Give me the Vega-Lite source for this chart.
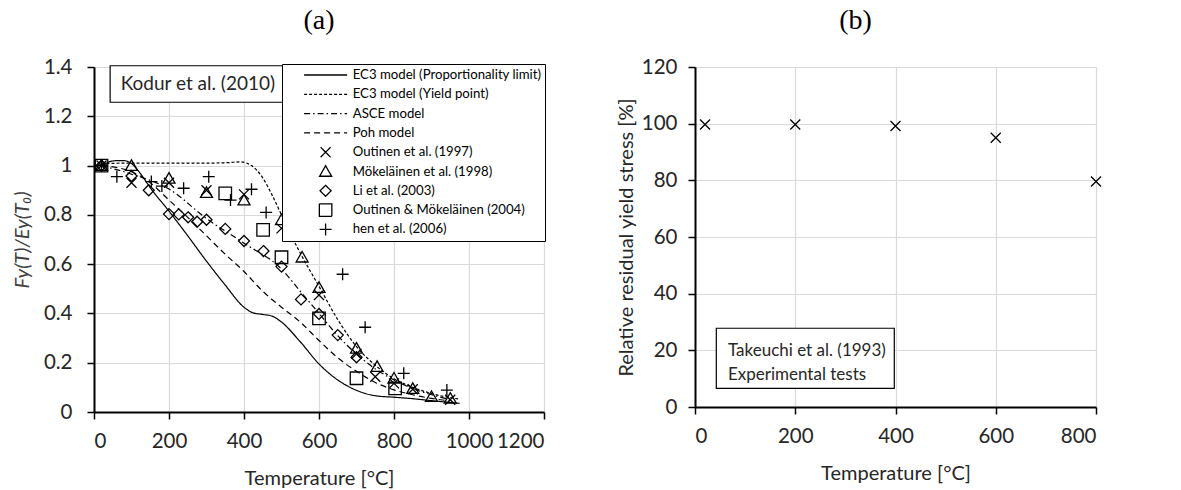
{
  "$schema": "https://vega.github.io/schema/vega-lite/v6.json",
  "background": "white",
  "padding": {"left": 12, "top": 7, "right": 5, "bottom": 5},
  "bounds": "flush",
  "spacing": 151,
  "config": {
    "view": {"stroke": null},
    "font": "Lato",
    "axis": {
      "gridColor": "#d9d9d9", "gridWidth": 1.2,
      "domainColor": "black", "domainWidth": 2,
      "tickColor": "black", "tickWidth": 1.5, "tickSize": 7,
      "labelFont": "Lato", "labelFontSize": 20.5, "labelColor": "#262626", "labelPadding": 12,
      "titleFont": "Lato", "titleFontSize": 20, "titleColor": "#262626", "titleFontWeight": "normal"
    }
  },
  "datasets": {
    "models": [
      {"series": "EC3 model (Proportionality limit)", "T": 20, "v": 1.0},
      {"series": "EC3 model (Proportionality limit)", "T": 40, "v": 1.015},
      {"series": "EC3 model (Proportionality limit)", "T": 60, "v": 1.02},
      {"series": "EC3 model (Proportionality limit)", "T": 80, "v": 1.02},
      {"series": "EC3 model (Proportionality limit)", "T": 100, "v": 1.008},
      {"series": "EC3 model (Proportionality limit)", "T": 125, "v": 0.965},
      {"series": "EC3 model (Proportionality limit)", "T": 150, "v": 0.91},
      {"series": "EC3 model (Proportionality limit)", "T": 200, "v": 0.815},
      {"series": "EC3 model (Proportionality limit)", "T": 250, "v": 0.715},
      {"series": "EC3 model (Proportionality limit)", "T": 300, "v": 0.612},
      {"series": "EC3 model (Proportionality limit)", "T": 350, "v": 0.515},
      {"series": "EC3 model (Proportionality limit)", "T": 400, "v": 0.425},
      {"series": "EC3 model (Proportionality limit)", "T": 425, "v": 0.402},
      {"series": "EC3 model (Proportionality limit)", "T": 450, "v": 0.396},
      {"series": "EC3 model (Proportionality limit)", "T": 475, "v": 0.389},
      {"series": "EC3 model (Proportionality limit)", "T": 500, "v": 0.365},
      {"series": "EC3 model (Proportionality limit)", "T": 550, "v": 0.285},
      {"series": "EC3 model (Proportionality limit)", "T": 600, "v": 0.195},
      {"series": "EC3 model (Proportionality limit)", "T": 650, "v": 0.13},
      {"series": "EC3 model (Proportionality limit)", "T": 700, "v": 0.088},
      {"series": "EC3 model (Proportionality limit)", "T": 750, "v": 0.066},
      {"series": "EC3 model (Proportionality limit)", "T": 800, "v": 0.06},
      {"series": "EC3 model (Proportionality limit)", "T": 850, "v": 0.054},
      {"series": "EC3 model (Proportionality limit)", "T": 900, "v": 0.046},
      {"series": "EC3 model (Proportionality limit)", "T": 975, "v": 0.035},
      {"series": "EC3 model (Yield point)", "T": 20, "v": 1.008},
      {"series": "EC3 model (Yield point)", "T": 100, "v": 1.01},
      {"series": "EC3 model (Yield point)", "T": 200, "v": 1.01},
      {"series": "EC3 model (Yield point)", "T": 300, "v": 1.01},
      {"series": "EC3 model (Yield point)", "T": 360, "v": 1.012},
      {"series": "EC3 model (Yield point)", "T": 390, "v": 1.015},
      {"series": "EC3 model (Yield point)", "T": 420, "v": 1.0},
      {"series": "EC3 model (Yield point)", "T": 450, "v": 0.95},
      {"series": "EC3 model (Yield point)", "T": 475, "v": 0.88},
      {"series": "EC3 model (Yield point)", "T": 500, "v": 0.8},
      {"series": "EC3 model (Yield point)", "T": 525, "v": 0.72},
      {"series": "EC3 model (Yield point)", "T": 550, "v": 0.645},
      {"series": "EC3 model (Yield point)", "T": 600, "v": 0.51},
      {"series": "EC3 model (Yield point)", "T": 650, "v": 0.375},
      {"series": "EC3 model (Yield point)", "T": 700, "v": 0.265},
      {"series": "EC3 model (Yield point)", "T": 750, "v": 0.19},
      {"series": "EC3 model (Yield point)", "T": 800, "v": 0.135},
      {"series": "EC3 model (Yield point)", "T": 850, "v": 0.1},
      {"series": "EC3 model (Yield point)", "T": 900, "v": 0.075},
      {"series": "EC3 model (Yield point)", "T": 950, "v": 0.058},
      {"series": "EC3 model (Yield point)", "T": 975, "v": 0.052},
      {"series": "ASCE model", "T": 20, "v": 1.0},
      {"series": "ASCE model", "T": 100, "v": 0.965},
      {"series": "ASCE model", "T": 200, "v": 0.905},
      {"series": "ASCE model", "T": 300, "v": 0.785},
      {"series": "ASCE model", "T": 400, "v": 0.685},
      {"series": "ASCE model", "T": 500, "v": 0.58},
      {"series": "ASCE model", "T": 550, "v": 0.49},
      {"series": "ASCE model", "T": 600, "v": 0.4},
      {"series": "ASCE model", "T": 650, "v": 0.31},
      {"series": "ASCE model", "T": 700, "v": 0.235},
      {"series": "ASCE model", "T": 750, "v": 0.175},
      {"series": "ASCE model", "T": 800, "v": 0.13},
      {"series": "ASCE model", "T": 850, "v": 0.095},
      {"series": "ASCE model", "T": 900, "v": 0.07},
      {"series": "ASCE model", "T": 950, "v": 0.05},
      {"series": "Poh model", "T": 20, "v": 1.0},
      {"series": "Poh model", "T": 100, "v": 0.975},
      {"series": "Poh model", "T": 150, "v": 0.93},
      {"series": "Poh model", "T": 200, "v": 0.86},
      {"series": "Poh model", "T": 250, "v": 0.79},
      {"series": "Poh model", "T": 300, "v": 0.715},
      {"series": "Poh model", "T": 350, "v": 0.64},
      {"series": "Poh model", "T": 400, "v": 0.57},
      {"series": "Poh model", "T": 450, "v": 0.49},
      {"series": "Poh model", "T": 500, "v": 0.425},
      {"series": "Poh model", "T": 550, "v": 0.365},
      {"series": "Poh model", "T": 600, "v": 0.29},
      {"series": "Poh model", "T": 650, "v": 0.22},
      {"series": "Poh model", "T": 700, "v": 0.165},
      {"series": "Poh model", "T": 750, "v": 0.12},
      {"series": "Poh model", "T": 800, "v": 0.09},
      {"series": "Poh model", "T": 850, "v": 0.07},
      {"series": "Poh model", "T": 900, "v": 0.055},
      {"series": "Poh model", "T": 950, "v": 0.045}
    ],
    "tests": [
      {"series": "Outinen et al. (1997)", "T": 20, "v": 1.0},
      {"series": "Outinen et al. (1997)", "T": 100, "v": 0.93},
      {"series": "Outinen et al. (1997)", "T": 200, "v": 0.93},
      {"series": "Outinen et al. (1997)", "T": 300, "v": 0.9},
      {"series": "Outinen et al. (1997)", "T": 400, "v": 0.883},
      {"series": "Outinen et al. (1997)", "T": 500, "v": 0.745},
      {"series": "Outinen et al. (1997)", "T": 600, "v": 0.475},
      {"series": "Outinen et al. (1997)", "T": 700, "v": 0.236},
      {"series": "Outinen et al. (1997)", "T": 750, "v": 0.143},
      {"series": "Outinen et al. (1997)", "T": 800, "v": 0.116},
      {"series": "Outinen et al. (1997)", "T": 850, "v": 0.092},
      {"series": "Outinen et al. (1997)", "T": 950, "v": 0.05},
      {"series": "Mökeläinen et al. (1998)", "T": 20, "v": 1.0},
      {"series": "Mökeläinen et al. (1998)", "T": 100, "v": 1.0},
      {"series": "Mökeläinen et al. (1998)", "T": 200, "v": 0.948},
      {"series": "Mökeläinen et al. (1998)", "T": 300, "v": 0.89},
      {"series": "Mökeläinen et al. (1998)", "T": 400, "v": 0.86},
      {"series": "Mökeläinen et al. (1998)", "T": 500, "v": 0.78},
      {"series": "Mökeläinen et al. (1998)", "T": 555, "v": 0.628},
      {"series": "Mökeläinen et al. (1998)", "T": 600, "v": 0.505},
      {"series": "Mökeläinen et al. (1998)", "T": 700, "v": 0.258},
      {"series": "Mökeläinen et al. (1998)", "T": 755, "v": 0.184},
      {"series": "Mökeläinen et al. (1998)", "T": 800, "v": 0.137},
      {"series": "Mökeläinen et al. (1998)", "T": 850, "v": 0.095},
      {"series": "Mökeläinen et al. (1998)", "T": 900, "v": 0.062},
      {"series": "Mökeläinen et al. (1998)", "T": 950, "v": 0.055},
      {"series": "Li et al. (2003)", "T": 20, "v": 1.0},
      {"series": "Li et al. (2003)", "T": 100, "v": 0.958},
      {"series": "Li et al. (2003)", "T": 146, "v": 0.9},
      {"series": "Li et al. (2003)", "T": 200, "v": 0.803},
      {"series": "Li et al. (2003)", "T": 226, "v": 0.802},
      {"series": "Li et al. (2003)", "T": 251, "v": 0.79},
      {"series": "Li et al. (2003)", "T": 275, "v": 0.772},
      {"series": "Li et al. (2003)", "T": 300, "v": 0.78},
      {"series": "Li et al. (2003)", "T": 350, "v": 0.743},
      {"series": "Li et al. (2003)", "T": 400, "v": 0.694},
      {"series": "Li et al. (2003)", "T": 452, "v": 0.653},
      {"series": "Li et al. (2003)", "T": 500, "v": 0.59},
      {"series": "Li et al. (2003)", "T": 552, "v": 0.457},
      {"series": "Li et al. (2003)", "T": 600, "v": 0.398},
      {"series": "Li et al. (2003)", "T": 650, "v": 0.312},
      {"series": "Li et al. (2003)", "T": 700, "v": 0.222},
      {"series": "Outinen & Mökeläinen (2004)", "T": 20, "v": 1.0},
      {"series": "Outinen & Mökeläinen (2004)", "T": 350, "v": 0.887},
      {"series": "Outinen & Mökeläinen (2004)", "T": 451, "v": 0.739},
      {"series": "Outinen & Mökeläinen (2004)", "T": 500, "v": 0.628},
      {"series": "Outinen & Mökeläinen (2004)", "T": 600, "v": 0.38},
      {"series": "Outinen & Mökeläinen (2004)", "T": 700, "v": 0.137},
      {"series": "Outinen & Mökeläinen (2004)", "T": 803, "v": 0.096},
      {"series": "hen et al. (2006)", "T": 20, "v": 1.0},
      {"series": "hen et al. (2006)", "T": 61, "v": 0.955},
      {"series": "hen et al. (2006)", "T": 153, "v": 0.935},
      {"series": "hen et al. (2006)", "T": 181, "v": 0.917},
      {"series": "hen et al. (2006)", "T": 239, "v": 0.908},
      {"series": "hen et al. (2006)", "T": 306, "v": 0.955},
      {"series": "hen et al. (2006)", "T": 364, "v": 0.86},
      {"series": "hen et al. (2006)", "T": 420, "v": 0.904},
      {"series": "hen et al. (2006)", "T": 459, "v": 0.81},
      {"series": "hen et al. (2006)", "T": 663, "v": 0.559},
      {"series": "hen et al. (2006)", "T": 723, "v": 0.344},
      {"series": "hen et al. (2006)", "T": 826, "v": 0.157},
      {"series": "hen et al. (2006)", "T": 941, "v": 0.089}
    ],
    "takeuchi": [
      {"T": 20, "r": 99.7},
      {"T": 200, "r": 99.7},
      {"T": 400, "r": 99.2},
      {"T": 600, "r": 95.0},
      {"T": 800, "r": 79.6}
    ]
  },
  "hconcat": [
    {
      "width": 450,
      "height": 345,
      "title": {"text": "(a)", "font": "Liberation Serif", "fontSize": 28, "fontWeight": "normal", "color": "black", "offset": 22},
      "layer": [
        {
          "data": {"name": "models"},
          "mark": {"type": "line", "interpolate": "monotone", "color": "black", "strokeWidth": 1.2},
          "encoding": {
            "x": {"field": "T", "type": "quantitative",
                  "scale": {"domain": [0, 1200], "nice": false},
                  "axis": {"values": [0, 200, 400, 600, 800, 1000, 1200], "format": "d", "title": "Temperature [°C]", "titlePadding": 17}},
            "y": {"field": "v", "type": "quantitative",
                  "scale": {"domain": [0, 1.4], "nice": false},
                  "axis": {"values": [0, 0.2, 0.4, 0.6, 0.8, 1, 1.2, 1.4], "format": "~g", "title": "Fy(T)/Ey(T₀)", "titleFontStyle": "italic", "titleColor": "#404040", "titlePadding": 11, "labelPadding": 15}},
            "strokeDash": {"field": "series", "type": "nominal",
              "scale": {"domain": ["EC3 model (Proportionality limit)", "EC3 model (Yield point)", "ASCE model", "Poh model", "Outinen et al. (1997)", "Mökeläinen et al. (1998)", "Li et al. (2003)", "Outinen & Mökeläinen (2004)", "hen et al. (2006)"],
                        "range": [[1, 0], [3, 2], [6, 3, 1.5, 3], [6, 4], [1, 0], [1, 0], [1, 0], [1, 0], [1, 0]]},
              "legend": {"title": null, "orient": "none", "legendX": 188, "legendY": -3, "strokeColor": "black", "fillColor": "white", "padding": 3, "labelFont": "Lato", "labelFontSize": 13.2, "labelColor": "black", "labelLimit": 400, "symbolSize": 100, "symbolStrokeWidth": 1.3, "symbolStrokeColor": "black", "symbolOpacity": 1, "clipHeight": 16, "rowPadding": 3.3, "symbolOffset": 34, "labelOffset": 20.5}}
          }
        },
        {
          "data": {"name": "tests"},
          "mark": {"type": "point", "filled": false, "color": "black", "strokeWidth": 1.3, "size": 100, "opacity": 1},
          "encoding": {
            "x": {"field": "T", "type": "quantitative"},
            "y": {"field": "v", "type": "quantitative"},
            "shape": {"field": "series", "type": "nominal",
              "scale": {"domain": ["EC3 model (Proportionality limit)", "EC3 model (Yield point)", "ASCE model", "Poh model", "Outinen et al. (1997)", "Mökeläinen et al. (1998)", "Li et al. (2003)", "Outinen & Mökeläinen (2004)", "hen et al. (2006)"],
                        "range": ["M-4.3,0L4.3,0", "M-4.3,0L4.3,0", "M-4.3,0L4.3,0", "M-4.3,0L4.3,0", "M-1,-1L1,1M-1,1L1,-1", "M0,-1.15L1.2,0.95L-1.2,0.95Z", "M0,-1.1L1.1,0L0,1.1L-1.1,0Z", "M-1.25,-1.25L1.25,-1.25L1.25,1.25L-1.25,1.25Z", "M-1.2,0L1.2,0M0,-1.2L0,1.2"]},
              "legend": {"title": null, "orient": "none", "legendX": 188, "legendY": -3, "strokeColor": "black", "fillColor": "white", "padding": 3, "labelFont": "Lato", "labelFontSize": 13.2, "labelColor": "black", "labelLimit": 400, "symbolSize": 100, "symbolStrokeWidth": 1.3, "symbolStrokeColor": "black", "symbolOpacity": 1, "clipHeight": 16, "rowPadding": 3.3, "symbolOffset": 34, "labelOffset": 20.5}}
          }
        },
        {
          "data": {"values": [{}]},
          "mark": {"type": "rect", "fill": "white", "stroke": "black", "strokeWidth": 1.2},
          "encoding": {
            "x": {"datum": 43, "type": "quantitative"},
            "x2": {"datum": 512},
            "y": {"datum": 1.257, "type": "quantitative"},
            "y2": {"datum": 1.405}
          }
        },
        {
          "data": {"values": [{}]},
          "mark": {"type": "text", "font": "Lato", "fontSize": 19, "color": "#262626"},
          "encoding": {
            "x": {"datum": 277, "type": "quantitative"},
            "y": {"datum": 1.333, "type": "quantitative"},
            "text": {"value": "Kodur et al. (2010)"}
          }
        }
      ]
    },
    {
      "width": 401,
      "height": 340,
      "title": {"text": "(b)", "dx": -40, "font": "Liberation Serif", "fontSize": 28, "fontWeight": "normal", "color": "black", "offset": 22},
      "layer": [
        {
          "data": {"name": "takeuchi"},
          "mark": {"type": "point", "filled": false, "color": "black", "strokeWidth": 1.3, "size": 100, "opacity": 1, "shape": "M-1,-1L1,1M-1,1L1,-1"},
          "encoding": {
            "x": {"field": "T", "type": "quantitative",
                  "scale": {"domain": [0, 800], "nice": false},
                  "axis": {"values": [0, 200, 400, 600, 800], "format": "d", "title": "Temperature [°C]", "titlePadding": 17}},
            "y": {"field": "r", "type": "quantitative",
                  "scale": {"domain": [0, 120], "nice": false},
                  "axis": {"values": [0, 20, 40, 60, 80, 100, 120], "title": "Relative residual yield stress [%]", "titlePadding": 5, "labelPadding": 11}}
          }
        },
        {
          "data": {"values": [{}]},
          "mark": {"type": "rect", "fill": "white", "stroke": "black", "strokeWidth": 1.2},
          "encoding": {
            "x": {"datum": 42.5, "type": "quantitative"},
            "x2": {"datum": 397.6},
            "y": {"datum": 6.6, "type": "quantitative"},
            "y2": {"datum": 27.8}
          }
        },
        {
          "data": {"values": [{}]},
          "mark": {"type": "text", "font": "Lato", "fontSize": 17, "color": "#262626", "align": "left", "baseline": "middle", "lineHeight": 24},
          "encoding": {
            "x": {"datum": 65.8, "type": "quantitative"},
            "y": {"datum": 19.7, "type": "quantitative"},
            "text": {"value": ["Takeuchi et al. (1993)", "Experimental tests"]}
          }
        }
      ]
    }
  ]
}
